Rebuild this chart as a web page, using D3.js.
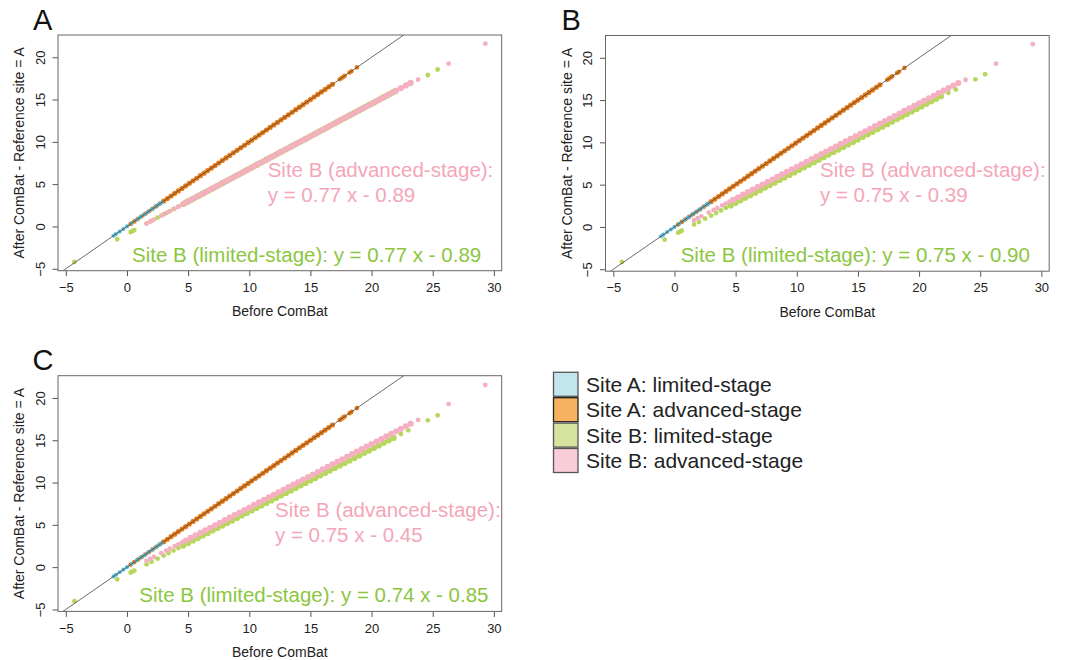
<!DOCTYPE html>
<html><head><meta charset="utf-8">
<script src="https://cdn.jsdelivr.net/npm/d3@7"></script>
<style>body{margin:0;background:#fff}svg{display:block}text{font-family:"Liberation Sans",Arial,sans-serif}</style>
</head><body>
<script>
// ---------------- DATA ----------------
const panelLetters = ["A", "B", "C"];
const xTicks = [-5, 0, 5, 10, 15, 20, 25, 30];
const yTicks = [-5, 0, 5, 10, 15, 20];
const xTitle = "Before ComBat";
const yTitle = "After ComBat - Reference site = A";
const legendLabels = ["Site A: limited-stage", "Site A: advanced-stage", "Site B: limited-stage", "Site B: advanced-stage"];
const advFitLabels = ["y = 0.77 x - 0.89", "y = 0.75 x - 0.39", "y = 0.75 x - 0.45"];
const limFitLabels = ["y = 0.77 x - 0.89", "y = 0.75 x - 0.90", "y = 0.74 x - 0.85"];

// Site A (reference site): values are unchanged by ComBat
const siteA_limited_before = [-1.1, -0.9, -0.6, -0.3, 0.0, 0.4, 0.8, 1.1, 1.4, 1.7, 2.0, 2.3, 2.6, 2.8];
const siteA_limited_after  = [-1.1, -0.9, -0.6, -0.3, 0.0, 0.4, 0.8, 1.1, 1.4, 1.7, 2.0, 2.3, 2.6, 2.8];
const siteA_advanced_before = [0.3,0.6,0.9,1.2,1.5,1.8,2.1,2.4,2.7,3.0,3.3,3.6,3.9,4.2,4.5,4.8,5.1,5.4,5.7,6.0,6.3,6.6,6.9,7.2,7.5,7.8,8.1,8.4,8.7,9.0,9.3,9.6,9.9,10.2,10.5,10.8,11.1,11.4,11.7,12.0,12.3,12.6,12.9,13.2,13.5,13.8,14.1,14.4,14.7,15.0,15.3,15.6,15.9,16.2,16.5,16.8,17.4,17.55,17.7,17.8,18.2,18.35,18.8];
const siteA_advanced_after  = [0.3,0.6,0.9,1.2,1.5,1.8,2.1,2.4,2.7,3.0,3.3,3.6,3.9,4.2,4.5,4.8,5.1,5.4,5.7,6.0,6.3,6.6,6.9,7.2,7.5,7.8,8.1,8.4,8.7,9.0,9.3,9.6,9.9,10.2,10.5,10.8,11.1,11.4,11.7,12.0,12.3,12.6,12.9,13.2,13.5,13.8,14.1,14.4,14.7,15.0,15.3,15.6,15.9,16.2,16.5,16.8,17.4,17.55,17.7,17.8,18.2,18.35,18.8];

// Site B limited-stage
const siteB_limited_before = [-4.3,-0.8,0.3,0.45,0.6,1.6,2.0,2.5,3.0,3.4,3.8,4.2,4.6,5.0,5.4,5.8,6.2,6.6,7.0,7.4,7.8,8.2,8.6,9.0,9.4,9.8,10.2,10.6,11.0,11.4,11.8,12.2,12.6,13.0,13.4,13.8,14.2,14.6,15.0,15.4,15.8,16.2,16.6,17.0,17.4,17.8,18.2,18.6,19.0,19.4,19.8,20.2,20.6,21.0,21.4,21.8,22.4,23.0,24.6,25.4];
const siteB_limited_after_A = [-4.20,-1.51,-0.66,-0.54,-0.43,0.34,0.65,1.04,1.42,1.73,2.04,2.34,2.65,2.96,3.27,3.58,3.88,4.19,4.50,4.81,5.12,5.42,5.73,6.04,6.35,6.66,6.96,7.27,7.58,7.89,8.20,8.50,8.81,9.12,9.43,9.74,10.04,10.35,10.66,10.97,11.28,11.58,11.89,12.20,12.51,12.82,13.12,13.43,13.74,14.05,14.36,14.66,14.97,15.28,15.59,15.90,16.36,16.82,17.90,18.55];
const siteB_limited_after_B = [-4.13,-1.50,-0.68,-0.56,-0.45,0.30,0.60,0.98,1.35,1.65,1.95,2.25,2.55,2.85,3.15,3.45,3.75,4.05,4.35,4.65,4.95,5.25,5.55,5.85,6.15,6.45,6.75,7.05,7.35,7.65,7.95,8.25,8.55,8.85,9.15,9.45,9.75,10.05,10.35,10.65,10.95,11.25,11.55,11.85,12.15,12.45,12.75,13.05,13.35,13.65,13.95,14.25,14.55,14.85,15.15,15.45,15.85,16.25,17.45,18.05];
const siteB_limited_after_C = [-4.03,-1.44,-0.63,-0.52,-0.41,0.33,0.63,1.00,1.37,1.67,1.96,2.26,2.55,2.85,3.15,3.44,3.74,4.03,4.33,4.63,4.92,5.22,5.51,5.81,6.11,6.40,6.70,6.99,7.29,7.59,7.88,8.18,8.47,8.77,9.07,9.36,9.66,9.95,10.25,10.55,10.84,11.14,11.43,11.73,12.03,12.32,12.62,12.91,13.21,13.51,13.80,14.10,14.39,14.69,14.99,15.28,15.73,16.17,17.35,17.95];

// Site B advanced-stage
const siteB_advanced_before = [1.6,1.9,2.2,2.8,3.2,3.5,3.9,4.2,4.5,4.8,5.2,5.6,6.0,6.4,6.8,7.2,7.6,8.0,8.4,8.8,9.2,9.6,10.0,10.4,10.8,11.2,11.6,12.0,12.4,12.8,13.2,13.6,14.0,14.4,14.8,15.2,15.6,16.0,16.4,16.8,17.2,17.6,18.0,18.4,18.8,19.2,19.6,20.0,20.4,20.8,21.2,21.6,22.0,22.4,22.8,23.2,23.8,26.3,29.3];
const siteB_advanced_after_A = [0.34,0.57,0.80,1.27,1.57,1.81,2.11,2.34,2.58,2.81,3.11,3.42,3.73,4.04,4.35,4.65,4.96,5.27,5.58,5.89,6.19,6.50,6.81,7.12,7.43,7.73,8.04,8.35,8.66,8.97,9.27,9.58,9.89,10.20,10.51,10.81,11.12,11.43,11.74,12.05,12.35,12.66,12.97,13.28,13.59,13.89,14.20,14.51,14.82,15.13,15.43,15.74,16.05,16.36,16.67,16.97,17.35,19.25,21.60];
const siteB_advanced_after_B = [0.81,1.04,1.26,1.71,2.01,2.24,2.54,2.76,2.99,3.21,3.51,3.81,4.11,4.41,4.71,5.01,5.31,5.61,5.91,6.21,6.51,6.81,7.11,7.41,7.71,8.01,8.31,8.61,8.91,9.21,9.51,9.81,10.11,10.41,10.71,11.01,11.31,11.61,11.91,12.21,12.51,12.81,13.11,13.41,13.71,14.01,14.31,14.61,14.91,15.21,15.51,15.81,16.11,16.41,16.71,17.01,17.40,19.30,21.60];
const siteB_advanced_after_C = [0.75,0.98,1.20,1.65,1.95,2.18,2.48,2.70,2.93,3.15,3.45,3.75,4.05,4.35,4.65,4.95,5.25,5.55,5.85,6.15,6.45,6.75,7.05,7.35,7.65,7.95,8.25,8.55,8.85,9.15,9.45,9.75,10.05,10.35,10.65,10.95,11.25,11.55,11.85,12.15,12.45,12.75,13.05,13.35,13.65,13.95,14.25,14.55,14.85,15.15,15.45,15.75,16.05,16.35,16.65,16.95,17.40,19.28,21.53];

const siteB_limited_after = [siteB_limited_after_A, siteB_limited_after_B, siteB_limited_after_C];
const siteB_advanced_after = [siteB_advanced_after_A, siteB_advanced_after_B, siteB_advanced_after_C];

// ---------------- STYLE / LAYOUT ----------------
const W = 1068, H = 660;
const FONT = '"Liberation Sans", Arial, sans-serif';
const col = {
  blue: "#5cbcd8", orange: "#e57a17", green: "#b6d65c", pink: "#f4b0c0",
  pinkText: "#f4a6b8", greenText: "#8cc63f",
  legend: ["#c3e6ee", "#f8b25f", "#d6e4a0", "#f9cdd8"]
};
const box = { l: 58, r: 501.7, t: 35, b: 270.7 };
const offsets = [{ dx: 0, dy: 0 }, { dx: 547.5, dy: 0.5 }, { dx: 0, dy: 340.7 }];
const letterPos = [[33, 29.5], [561.5, 29.5], [32.5, 369.5]];
const advTextPos = [[267.7, 176.7], [820, 176.7], [275, 516.7]];
const limTextPos = [[132, 261.7], [680.7, 261.7], [139.3, 601.7]];

const svg = d3.select("body").append("svg").attr("width", W).attr("height", H)
  .style("background", "#fff");
svg.append("rect").attr("width", W).attr("height", H).attr("fill", "#fff");

const x = d3.scaleLinear().domain([-5.64, 30.64]).range([box.l, box.r]);
const y = d3.scaleLinear().domain([-5.23, 22.63]).range([box.b, box.t]);

svg.append("defs").append("clipPath").attr("id", "clip")
  .append("rect").attr("x", box.l).attr("y", box.t)
  .attr("width", box.r - box.l).attr("height", box.b - box.t);

panelLetters.forEach((letter, i) => {
  const g = svg.append("g").attr("transform", `translate(${offsets[i].dx},${offsets[i].dy})`);
  const plot = g.append("g").attr("clip-path", "url(#clip)");

  // rd: marker radius inside the dense (overplotted) run [lo, hi]; rs: elsewhere
  const series = [
    { xs: siteB_limited_before, ys: siteB_limited_after[i], c: col.green, rd: 3.1, rs: 2.4, lo: 4.6, hi: 21.8 },
    { xs: siteB_advanced_before, ys: siteB_advanced_after[i], c: col.pink, rd: 3.1, rs: 2.4, lo: 4.8, hi: 23.2 },
    { xs: siteA_advanced_before, ys: siteA_advanced_after, c: col.orange, rd: 2.6, rs: 2.3, lo: 3.0, hi: 16.8 },
    { xs: siteA_limited_before, ys: siteA_limited_after, c: col.blue, rd: 2.1, rs: 2.1, lo: 0, hi: 0 }
  ];
  series.forEach(s => {
    plot.append("g").selectAll("circle")
      .data(s.xs.map((v, k) => ({ x: v, y: s.ys[k], r: (v >= s.lo && v <= s.hi) ? s.rd : s.rs })))
      .join("circle")
      .attr("cx", d => x(d.x)).attr("cy", d => y(d.y))
      .attr("r", d => d.r).attr("fill", s.c);
  });

  // identity line (abline 0,1)
  const dom = x.domain();
  plot.append("line")
    .attr("x1", x(dom[0])).attr("y1", y(dom[0]))
    .attr("x2", x(dom[1])).attr("y2", y(dom[1]))
    .attr("stroke", "#444").attr("stroke-width", 0.8);

  // axes
  const xa = g.append("g").attr("transform", `translate(0,${box.b})`)
    .call(d3.axisBottom(x).tickValues(xTicks).tickSize(5.5).tickSizeOuter(0).tickPadding(6.5));
  xa.select(".domain").remove();
  xa.selectAll("line").attr("stroke", "#555");
  xa.selectAll("text").attr("font-family", FONT).attr("font-size", 13).attr("fill", "#222");

  const ya = g.append("g").attr("transform", `translate(${box.l},0)`)
    .call(d3.axisLeft(y).tickValues(yTicks).tickSize(5.5).tickSizeOuter(0));
  ya.select(".domain").remove();
  ya.selectAll("line").attr("stroke", "#555");
  ya.selectAll("text").attr("font-family", FONT).attr("font-size", 13).attr("fill", "#222")
    .attr("x", null).attr("dy", null).attr("text-anchor", "middle")
    .attr("transform", "translate(-13.5,0) rotate(-90)");

  // box
  g.append("rect").attr("x", box.l).attr("y", box.t)
    .attr("width", box.r - box.l).attr("height", box.b - box.t)
    .attr("fill", "none").attr("stroke", "#666").attr("stroke-width", 1);

  // titles
  g.append("text").attr("x", (box.l + box.r) / 2).attr("y", 316)
    .attr("text-anchor", "middle").attr("font-size", 14).attr("fill", "#222").text(xTitle);
  g.append("text").attr("transform", `translate(24,${(box.t + box.b) / 2}) rotate(-90)`)
    .attr("text-anchor", "middle").attr("font-size", 14).attr("fill", "#222").text(yTitle);
});

// panel letters
panelLetters.forEach((L, i) => {
  svg.append("text").attr("x", letterPos[i][0]).attr("y", letterPos[i][1])
    .attr("font-size", 29).attr("fill", "#111").text(L);
});

// annotations
panelLetters.forEach((L, i) => {
  const t = svg.append("text").attr("font-size", 20.5).attr("fill", col.pinkText);
  t.append("tspan").attr("x", advTextPos[i][0]).attr("y", advTextPos[i][1]).text("Site B (advanced-stage):");
  t.append("tspan").attr("x", advTextPos[i][0]).attr("y", advTextPos[i][1] + 25).text(advFitLabels[i]);
  svg.append("text").attr("x", limTextPos[i][0]).attr("y", limTextPos[i][1])
    .attr("font-size", 20.5).attr("fill", col.greenText)
    .text("Site B (limited-stage): " + limFitLabels[i]);
});

// legend
const lg = svg.append("g");
legendLabels.forEach((lab, i) => {
  const y0 = 372.3 + i * 25.4;
  lg.append("rect").attr("x", 553.5).attr("y", y0).attr("width", 24.5).attr("height", 24)
    .attr("fill", col.legend[i]).attr("stroke", i === 1 ? "#222" : "#555").attr("stroke-width", 1.3);
  lg.append("text").attr("x", 586).attr("y", y0 + 12).attr("dy", "0.36em")
    .attr("font-size", 21).attr("fill", "#222").text(lab);
});
</script>
</body></html>
